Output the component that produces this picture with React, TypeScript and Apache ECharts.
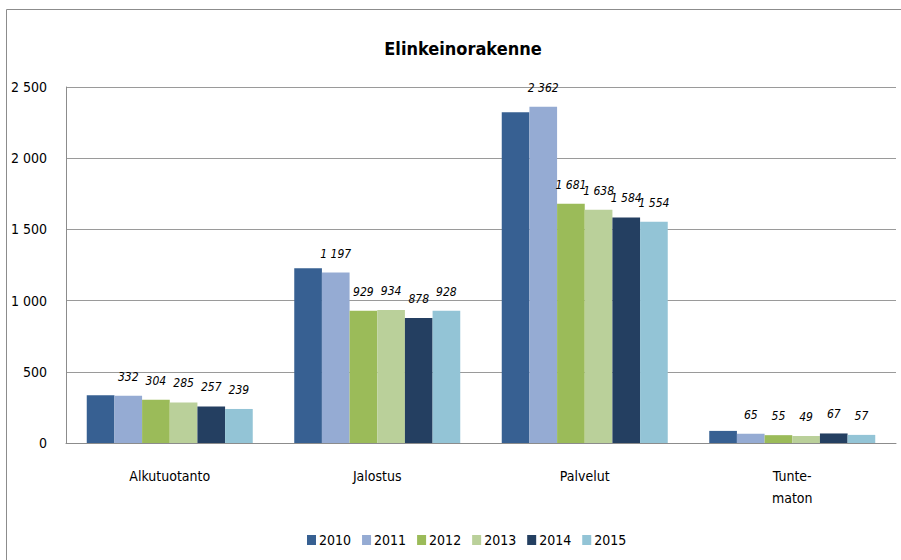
import React, { useEffect, useRef } from "react";
import * as echarts from "echarts";

const categories = ["Alkutuotanto", "Jalostus", "Palvelut", "Tunte-\nmaton"];
const years = ["2010", "2011", "2012", "2013", "2014", "2015"];
const v2010 = [335, 1227, 2322, 85];
const v2011 = [332, 1197, 2362, 65];
const v2012 = [304, 929, 1681, 55];
const v2013 = [285, 934, 1638, 49];
const v2014 = [257, 878, 1584, 67];
const v2015 = [239, 928, 1554, 57];
const yTicks = [0, 500, 1000, 1500, 2000, 2500];
const colors = ["#376092", "#95abd3", "#9bbb59", "#bad09a", "#243f61", "#93c4d6"];
const showLabels = [false, true, true, true, true, true];

const FONT = "'Liberation Sans Narrow', 'DejaVu Sans Condensed', 'Open Sans', sans-serif";

const fmt = (n: number) => String(Math.round(n)).replace(/\B(?=(\d{3})+(?!\d))/g, " ");

export default function App() {
  const ref = useRef<HTMLDivElement>(null);
  useEffect(() => {
    if (!ref.current) return;
    const chart = echarts.init(ref.current, null, { renderer: "svg" });
    const all = [v2010, v2011, v2012, v2013, v2014, v2015];
    chart.setOption({
      animation: false,
      textStyle: { fontFamily: FONT },
      title: {
        text: "Elinkeinorakenne",
        left: 458,
        top: 34,
        textAlign: "center",
        textStyle: { fontFamily: FONT, fontSize: 18, fontWeight: "bold", color: "#000" },
      },
      graphic: [
        {
          type: "rect",
          shape: { x: 6.5, y: 9.5, width: 900, height: 560 },
          style: { fill: "none", stroke: "#8c8c8c", lineWidth: 1 },
          silent: true,
        },
      ],
      legend: {
        bottom: 8,
        left: 302,
        itemWidth: 9,
        itemHeight: 10,
        itemGap: 11,
        icon: "rect",
        textStyle: { fontFamily: FONT, fontSize: 14, color: "#000", padding: [0, 0, 0, -2] },
        data: years,
      },
      grid: { left: 66, right: 5, top: 87, bottom: 117, containLabel: false },
      xAxis: {
        type: "category",
        data: categories,
        axisLine: { lineStyle: { color: "#8c8c8c" } },
        axisTick: { show: false },
        axisLabel: { fontFamily: FONT, fontSize: 14, color: "#000", margin: 22, lineHeight: 22 },
      },
      yAxis: {
        type: "value",
        min: yTicks[0],
        max: yTicks[yTicks.length - 1],
        interval: 500,
        axisLine: { show: true, lineStyle: { color: "#8c8c8c" } },
        axisTick: { show: false },
        splitLine: { lineStyle: { color: "#9a9a9a" } },
        axisLabel: {
          fontFamily: FONT,
          fontSize: 14,
          color: "#000",
          margin: 19,
          formatter: (v: number) => fmt(v),
        },
      },
      series: years.map((y, i) => ({
        name: y,
        type: "bar",
        data: all[i],
        barGap: "0%",
        barCategoryGap: "20%",
        itemStyle: { color: colors[i] },
        label: {
          show: showLabels[i],
          position: "top",
          distance: 13,
          fontFamily: FONT,
          fontSize: 12,
          fontStyle: "italic",
          color: "#000",
          formatter: (p: any) => fmt(p.value),
        },
      })),
    });
    return () => chart.dispose();
  }, []);
  return (
    <div
      ref={ref}
      style={{ position: "absolute", left: 0, top: 0, width: 901, height: 560, background: "#fff" }}
    />
  );
}
